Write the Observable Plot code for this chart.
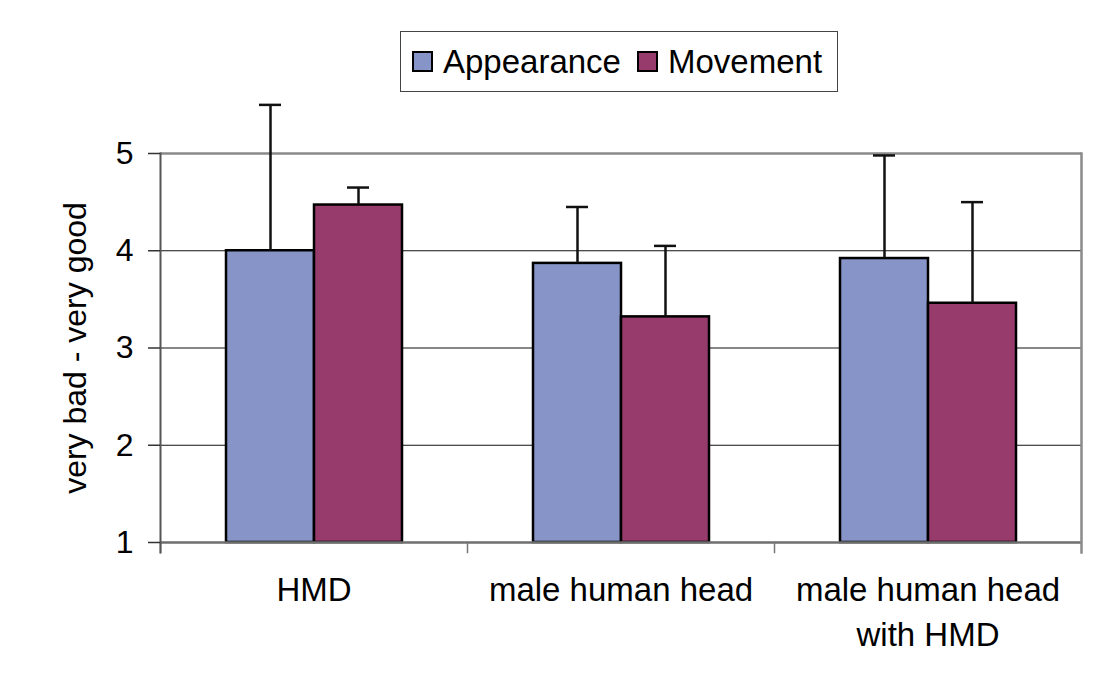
<!DOCTYPE html>
<html>
<head>
<meta charset="utf-8">
<script src="https://cdn.jsdelivr.net/npm/d3@7"></script>
<script src="https://cdn.jsdelivr.net/npm/@observablehq/plot@0.6"></script>
<style>
  body { margin: 0; background: #fff; font-family: "Liberation Sans", Arial, sans-serif; }
  #wrap { width: 1110px; height: 693px; position: relative; background: #fff; }
  #legendRow { height: 100px; position: relative; }
  #legend { position: absolute; left: 400px; top: 31px; width: 438px; height: 61px; box-sizing: border-box;
            border: 1px solid #444; display: flex; align-items: center; font-size: 33px; color: #000; }
  .item { display: flex; align-items: center; }
  .sw { width: 21px; height: 21px; box-sizing: border-box; border: 2px solid #000; margin-right: 10px; }
  svg { display: block; }
</style>
</head>
<body>
<div id="wrap">
  <div id="legendRow"><div id="legend"></div></div>
  <div id="chart"></div>
</div>
<script>
// ---- data ----
const groups = ["HMD", "male human head", "male human head\nwith HMD"];
const series = ["Appearance", "Movement"];
const seriesColors = ["#8694C8", "#973B6C"];
const appearanceMean = [4.00, 3.87, 3.92];
const movementMean = [4.47, 3.32, 3.46];
const appearanceUpper = [5.50, 4.45, 4.98];
const movementUpper = [4.65, 4.05, 4.50];
const yTicks = [1, 2, 3, 4, 5];
const yLabel = "very bad - very good";

// ---- table ----
const rows = [];
groups.forEach((g, i) => {
  rows.push({group: g, series: series[0], mean: appearanceMean[i], upper: appearanceUpper[i]});
  rows.push({group: g, series: series[1], mean: movementMean[i], upper: movementUpper[i]});
});

// ---- legend ----
const legend = document.getElementById("legend");
series.forEach((s, i) => {
  const it = document.createElement("div");
  it.className = "item";
  it.style.marginLeft = i === 0 ? "11px" : "16px";
  const sw = document.createElement("div");
  sw.className = "sw";
  sw.style.background = seriesColors[i];
  const tx = document.createElement("span");
  tx.textContent = s;
  it.appendChild(sw); it.appendChild(tx);
  legend.appendChild(it);
});

// ---- chart ----
const W = 1110, H = 593, mT = 53, mB = 151, mL = 160, mR = 29;
const plotH = H - mT - mB;
const yMin = yTicks[0], yMax = yTicks[yTicks.length - 1];

const chart = Plot.plot({
  width: W, height: H,
  marginTop: mT, marginBottom: mB, marginLeft: mL, marginRight: mR,
  style: {fontFamily: "'Liberation Sans', Arial, sans-serif", color: "#000", background: "#fff", overflow: "visible"},
  fx: {domain: groups, padding: 0, label: null},
  x: {domain: series, paddingInner: 0, paddingOuter: 0.74, axis: null},
  y: {domain: [yMin, yMax]},
  color: {domain: series, range: seriesColors},
  marks: [
    Plot.ruleY(yTicks.slice(1, -1), {stroke: "#111", strokeWidth: 1.2}),
    Plot.ruleY([yMax], {stroke: "#8a8a8a", strokeWidth: 2.5}),
    Plot.barY(rows, {fx: "group", x: "series", y1: yMin, y2: "mean", fill: "series", stroke: "#000", strokeWidth: 2.5}),
    Plot.ruleX(rows, {fx: "group", x: "series", y1: "mean", y2: "upper", stroke: "#111", strokeWidth: 2.5}),
    Plot.tickY(rows, {fx: "group", x: "series", y: "upper", inset: 33, stroke: "#111", strokeWidth: 2.5}),
    Plot.ruleY([yMin], {stroke: "#6e6e6e", strokeWidth: 2.5}),
    Plot.frame({anchor: "left", insetTop: plotH, insetBottom: -10, stroke: "#777", strokeWidth: 1.5}),
    Plot.frame({anchor: "right", facetAnchor: "right", insetBottom: -10, stroke: "#8a8a8a", strokeWidth: 2.5}),
    Plot.frame({anchor: "left", facetAnchor: "left", insetBottom: -10, stroke: "#555", strokeWidth: 2}),
    Plot.axisY({ticks: yTicks, tickFormat: d => String(d), tickSize: 12, tickPadding: 15, fontSize: 32,
                stroke: "#333", strokeWidth: 1.5,
                label: yLabel, labelAnchor: "center", labelArrow: "none", labelOffset: 97}),
    Plot.axisFx({anchor: "bottom", tickSize: 0, tickPadding: 27, fontSize: 33, lineHeight: 1.35, label: null})
  ]
});
document.getElementById("chart").appendChild(chart);
</script>
</body>
</html>
